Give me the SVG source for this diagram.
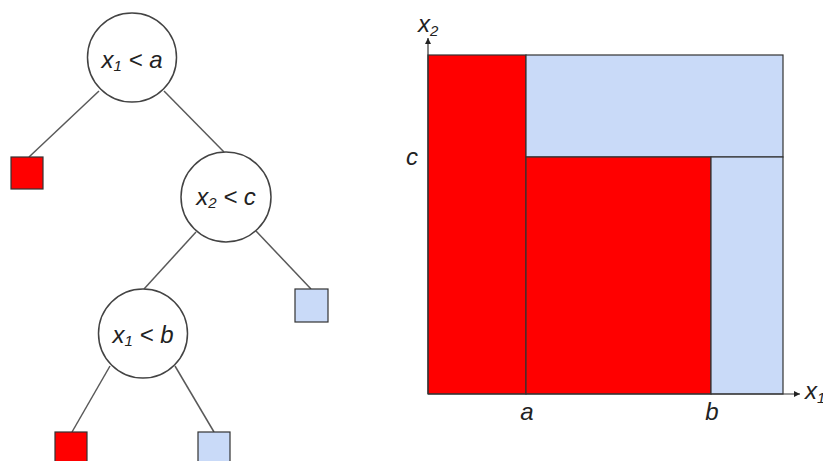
<svg xmlns="http://www.w3.org/2000/svg" width="823" height="461" viewBox="0 0 823 461">
<defs>
<style>
.node{fill:#fff;stroke:#434343;stroke-width:1.5}
.edge{stroke:#595959;stroke-width:1.5;fill:none}
.red{fill:#ff0000;stroke:#333;stroke-width:1.2}
.blue{fill:#c9daf8;stroke:#333;stroke-width:1.2}
.lbl{font-family:"Liberation Sans",Arial,sans-serif;font-style:italic;font-size:24px;fill:#222}
.sub{font-size:15px}
.axis{stroke:#333;stroke-width:1.2;fill:none}
</style>
<marker id="ah" viewBox="0 0 10 10" refX="10" refY="5" markerWidth="6" markerHeight="6" orient="auto" markerUnits="userSpaceOnUse">
<path d="M0,0 L10,5 L0,10 z" fill="#222"/>
</marker>
</defs>
<g id="connectors">
<line class="edge" x1="99" y1="91" x2="29" y2="157"/>
<line class="edge" x1="164" y1="91" x2="224" y2="152"/>
<line class="edge" x1="196" y1="232" x2="144" y2="289"/>
<line class="edge" x1="256" y1="231" x2="311" y2="289"/>
<line class="edge" x1="110" y1="366" x2="72" y2="432"/>
<line class="edge" x1="175" y1="366" x2="214" y2="432"/>
</g>
<g id="n-root">
<circle class="node" cx="132" cy="57.5" r="44.5"/>
<text class="lbl" x="132" y="68" text-anchor="middle">x<tspan class="sub" dy="3">1</tspan><tspan dy="-3"> &lt; a</tspan></text>
</g>
<g id="leaf-1">
<rect class="red" x="11" y="157" width="32" height="32"/>
</g>
<g id="n-x2c">
<circle class="node" cx="226" cy="197" r="45"/>
<text class="lbl" x="226" y="205" text-anchor="middle">x<tspan class="sub" dy="3">2</tspan><tspan dy="-3"> &lt; c</tspan></text>
</g>
<g id="leaf-2">
<rect class="blue" x="295" y="289" width="33" height="33"/>
</g>
<g id="n-x1b">
<circle class="node" cx="143" cy="333.5" r="44.5"/>
<text class="lbl" x="143" y="343" text-anchor="middle">x<tspan class="sub" dy="3">1</tspan><tspan dy="-3"> &lt; b</tspan></text>
</g>
<g id="leaf-3">
<rect class="red" x="55" y="432" width="32" height="32"/>
</g>
<g id="leaf-4">
<rect class="blue" x="198" y="432" width="32" height="32"/>
</g>
<g id="plot">
<rect class="red" x="428" y="55" width="98" height="339"/>
<rect class="blue" x="526" y="55" width="257" height="102"/>
<rect class="red" x="526" y="157" width="185" height="237"/>
<rect class="blue" x="711" y="157" width="72" height="237"/>
<line class="axis" x1="428" y1="394" x2="428" y2="38" marker-end="url(#ah)"/>
<line class="axis" x1="428" y1="394" x2="800" y2="394" marker-end="url(#ah)"/>
<text class="lbl" x="418" y="32">x<tspan class="sub" dy="4">2</tspan></text>
<text class="lbl" x="805" y="399">x<tspan class="sub" dy="4">1</tspan></text>
<text class="lbl" x="412" y="165" text-anchor="middle">c</text>
<text class="lbl" x="527" y="420" text-anchor="middle">a</text>
<text class="lbl" x="712" y="420" text-anchor="middle">b</text>
</g>
</svg>
